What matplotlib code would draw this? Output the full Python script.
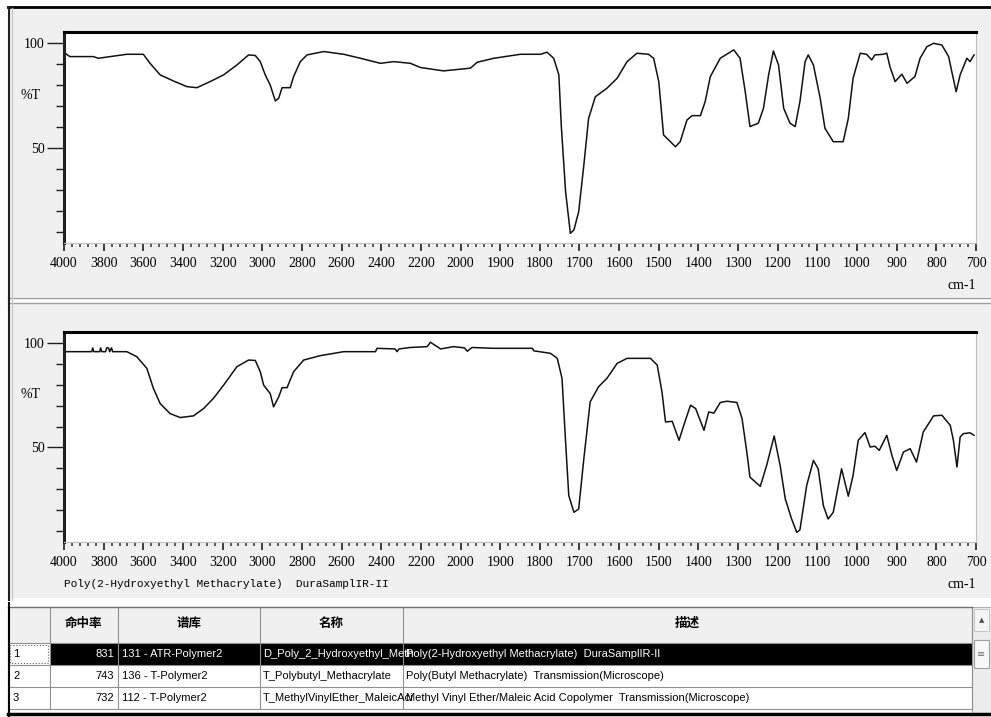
import numpy as np
import matplotlib
matplotlib.use("Agg")
import matplotlib.pyplot as plt
from matplotlib.patches import Rectangle
from matplotlib.ticker import FixedLocator, NullFormatter

# sample spectrum (top): wavenumber (cm-1) and %T
wn_top = [3995, 3970, 3852, 3827, 3683, 3600, 3566, 3515, 3448, 3380, 3330, 3263,
          3195, 3128, 3069, 3035, 3010, 2985, 2960, 2934, 2917, 2900, 2859, 2842,
          2808, 2774, 2690, 2589, 2505, 2404, 2337, 2253, 2202, 2085, 1975, 1958,
          1916, 1849, 1798, 1782, 1765, 1752, 1746, 1735, 1723, 1714, 1702, 1689,
          1677, 1660, 1631, 1605, 1580, 1555, 1526, 1513, 1500, 1488, 1475, 1458,
          1446, 1429, 1416, 1395, 1383, 1370, 1345, 1311, 1295, 1282, 1270, 1249,
          1236, 1223, 1211, 1198, 1185, 1169, 1156, 1144, 1131, 1123, 1110, 1093,
          1081, 1060, 1035, 1022, 1010, 992, 976, 963, 955, 934, 925, 917, 904,
          887, 874, 854, 841, 824, 807, 786, 769, 761, 750, 740, 723, 715, 705]
t_top = [95.1, 93.5, 93.5, 92.7, 94.6, 94.6, 90.3, 84.8, 81.9, 79.2, 78.7, 81.6,
         84.8, 89.5, 94.3, 94.0, 91.1, 84.8, 80.0, 72.4, 73.7, 78.7, 78.7, 84.0,
         91.1, 94.3, 95.9, 94.6, 92.7, 90.3, 91.1, 90.3, 88.3, 86.7, 88.0, 90.8,
         92.7, 94.6, 94.6, 95.6, 92.7, 84.8, 61.0, 29.2, 9.4, 11.0, 19.7, 41.9,
         64.1, 74.4, 78.4, 83.2, 91.1, 95.1, 94.6, 92.7, 81.6, 56.2, 53.8, 50.6,
         53.0, 63.3, 65.4, 65.4, 72.1, 84.0, 92.7, 96.7, 92.7, 76.8, 60.2, 61.8,
         68.9, 84.8, 96.2, 89.5, 68.9, 61.8, 60.2, 72.1, 91.1, 94.3, 89.5, 73.7,
         59.4, 53.0, 53.0, 64.1, 83.2, 95.1, 94.6, 91.9, 94.3, 94.6, 95.1, 88.7, 81.6,
         85.1, 80.8, 84.0, 92.7, 98.2, 99.8, 99.0, 93.5, 86.3, 76.8, 84.8, 92.7, 91.1, 94.3]

# library hit spectrum (middle)
wn_mid = [3995, 3860, 3855, 3850, 3820, 3815, 3810, 3790, 3785, 3775, 3770, 3760,
          3755, 3683, 3633, 3582, 3549, 3515, 3465, 3414, 3347, 3296, 3246, 3195,
          3128, 3069, 3035, 3010, 2993, 2960, 2943, 2917, 2900, 2875, 2842, 2791,
          2707, 2589, 2429, 2421, 2330, 2320, 2310, 2253, 2168, 2152, 2118, 2101,
          2034, 1990, 1983, 1971, 1916, 1849, 1819, 1815, 1773, 1756, 1744, 1735,
          1727, 1714, 1702, 1689, 1673, 1652, 1631, 1605, 1580, 1521, 1504, 1492,
          1483, 1466, 1449, 1437, 1420, 1407, 1386, 1374, 1361, 1345, 1328, 1303,
          1290, 1278, 1270, 1244, 1228, 1209, 1194, 1181, 1165, 1152, 1144, 1127,
          1110, 1098, 1085, 1073, 1060, 1039, 1022, 1010, 997, 980, 967, 955, 944,
          925, 912, 900, 883, 866, 850, 833, 807, 786, 765, 757, 748, 740, 732, 715, 705]
t_mid = [95.8, 95.8, 97.6, 95.8, 95.8, 97.6, 95.8, 95.8, 97.6, 97.6, 95.8, 97.6,
         95.8, 95.8, 93.4, 87.8, 78.2, 71.0, 66.2, 64.3, 65.1, 68.6, 73.5, 79.8,
         88.6, 91.8, 91.6, 86.2, 79.8, 75.8, 69.4, 74.2, 78.6, 78.6, 86.2, 91.8,
         93.9, 95.8, 95.8, 97.4, 97.1, 95.8, 97.1, 97.8, 98.2, 100.3, 98.2, 97.1,
         98.2, 97.6, 96.0, 97.8, 97.4, 97.4, 97.4, 96.2, 95.0, 92.6, 83.0, 52.6,
         27.0, 19.0, 20.6, 44.6, 71.8, 79.0, 83.0, 90.2, 92.6, 92.6, 89.4, 76.6,
         62.2, 62.5, 53.4, 60.6, 70.2, 68.6, 58.2, 67.0, 66.4, 71.5, 72.1, 71.5,
         63.8, 47.8, 35.8, 31.4, 41.4, 55.5, 41.4, 25.4, 15.8, 9.4, 10.6, 31.8,
         43.8, 39.8, 22.2, 15.8, 19.0, 39.8, 26.7, 36.6, 53.4, 57.1, 50.2, 50.6, 48.6,
         55.8, 46.2, 39.0, 47.8, 49.4, 43.0, 57.4, 65.1, 65.4, 60.6, 53.4, 40.6, 55.0, 56.6, 57.0, 55.8]

major_ticks = [4000, 3800, 3600, 3400, 3200, 3000, 2800, 2600, 2400, 2200, 2000,
               1900, 1800, 1700, 1600, 1500, 1400, 1300, 1200, 1100, 1000, 900, 800, 700]
y_major = [100, 50]
y_minor = [90, 80, 70, 60, 40, 30, 20, 10]

caption = "Poly(2-Hydroxyethyl Methacrylate)  DuraSamplIR-II"

# search result table
headers = ["命中率", "谱库", "名称", "描述"]
row_ids = ["1", "2", "3"]
scores = [831, 743, 732]
libraries = ["131 - ATR-Polymer2", "136 - T-Polymer2", "112 - T-Polymer2"]
names = ["D_Poly_2_Hydroxyethyl_Meth", "T_Polybutyl_Methacrylate", "T_MethylVinylEther_MaleicAci"]
descriptions = ["Poly(2-Hydroxyethyl Methacrylate)  DuraSamplIR-II",
                "Poly(Butyl Methacrylate)  Transmission(Microscope)",
                "Methyl Vinyl Ether/Maleic Acid Copolymer  Transmission(Microscope)"]

W, H = 991, 717
fig = plt.figure(figsize=(W / 100, H / 100), dpi=100, facecolor="white")

def box(l, t, r, b):
    return [l / W, 1 - b / H, (r - l) / W, (b - t) / H]

# background / window chrome, drawn in pixel coordinates
bg = fig.add_axes([0, 0, 1, 1], zorder=0)
bg.set_xlim(0, W)
bg.set_ylim(H, 0)
bg.axis("off")
bg.add_patch(Rectangle((8, 7), W - 8, 290, fc="#f0f0f0", ec="none"))
bg.add_patch(Rectangle((8, 303), W - 8, 295, fc="#f0f0f0", ec="none"))
bg.plot([8, W], [7, 7], color="black", lw=2)
bg.plot([8, W], [298, 298], color="#a0a0a0", lw=1)
bg.plot([8, W], [303, 303], color="#a0a0a0", lw=1)
bg.plot([9, 9], [7, 600], color="#202020", lw=1.5)
bg.plot([12, 12], [8, 600], color="#c8c8c8", lw=1)

font_num = "Liberation Serif"
font_tab = "Liberation Sans"

def fwd(x):
    x = np.asarray(x, dtype=float)
    return np.where(x > 2000, 2000 + (x - 2000) / 2, x)

def inv(u):
    u = np.asarray(u, dtype=float)
    return np.where(u > 2000, 2000 + (u - 2000) * 2, u)

def spectrum(rect, wn, t):
    ax = fig.add_axes(rect, zorder=2)
    ax.set_facecolor("white")
    ax.set_xscale("function", functions=(fwd, inv))
    ax.plot(wn, t, color="#111111", lw=1.1)
    ax.set_xlim(4000, 700)
    ax.set_ylim(4.8, 105.2)
    ax.xaxis.set_major_locator(FixedLocator(major_ticks))
    ax.set_xticklabels([str(v) for v in major_ticks], fontfamily=font_num, fontsize=10)
    minor = list(np.arange(2000, 4001, 40)) + list(np.arange(700, 2001, 20))
    ax.xaxis.set_minor_locator(FixedLocator(minor))
    ax.yaxis.set_major_locator(FixedLocator(y_major))
    ax.yaxis.set_minor_locator(FixedLocator(y_minor))
    ax.yaxis.set_minor_formatter(NullFormatter())
    ax.set_yticklabels([str(v) for v in y_major], fontfamily=font_num, fontsize=10)
    ax.tick_params(axis="x", which="major", direction="out", length=6, width=1.2, pad=4, color="#202020")
    ax.tick_params(axis="x", which="minor", direction="out", length=3, width=1.2, color="#404040")
    ax.tick_params(axis="y", which="major", direction="out", length=12, width=1, pad=2, color="#202020")
    ax.tick_params(axis="y", which="minor", direction="out", length=6, width=1, color="#202020")
    ax.spines["top"].set_linewidth(2.2)
    ax.spines["top"].set_color("black")
    ax.spines["left"].set_linewidth(2.2)
    ax.spines["left"].set_color("#202020")
    ax.spines["right"].set_color("#c0c0c0")
    ax.spines["bottom"].set_color("#c0c0c0")
    ax.text(-0.037, 0.7, "%T", transform=ax.transAxes, ha="center", va="center",
            fontfamily=font_num, fontsize=10)
    ax.text(1.0, -0.2, "cm-1", transform=ax.transAxes, ha="right", va="center",
            fontfamily=font_num, fontsize=10)
    return ax

ax1 = spectrum(box(64, 32, 976, 243), wn_top, t_top)
ax2 = spectrum(box(64, 332, 976, 542), wn_mid, t_mid)
ax2.text(0.0, -0.2, caption, transform=ax2.transAxes, ha="left", va="center",
         fontfamily="Liberation Mono", fontsize=8)

# result table
tab = fig.add_axes([0, 0, 1, 1], zorder=3)
tab.set_xlim(0, W)
tab.set_ylim(H, 0)
tab.axis("off")
col_x = [8, 50, 118, 260, 403, 972]
head_top, head_bot = 607, 643
row_h = 22
tab.add_patch(Rectangle((8, head_top), W - 8, H - head_top, fc="white", ec="none"))
tab.add_patch(Rectangle((8, head_top), 964, head_bot - head_top, fc="#f0f0f0", ec="none"))
tab.add_patch(Rectangle((50, head_bot), 922, row_h, fc="black", ec="none"))
tab.add_patch(Rectangle((10, head_bot + 2), 38, row_h - 4, fc="none", ec="#606060", lw=0.8, ls=":"))
for x in col_x:
    tab.plot([x, x], [head_top, head_bot + 3 * row_h], color="#909090", lw=0.8)
tab.plot([8, 972], [head_top, head_top], color="#707070", lw=1)
for i in range(4):
    tab.plot([8, 972], [head_bot + i * row_h] * 2, color="#909090", lw=0.8)
tab.plot([8, W], [714, 714], color="black", lw=2.5)
tab.plot([9, 9], [603, 716], color="black", lw=1.5)

centers = [(col_x[i] + col_x[i + 1]) / 2 for i in range(1, 5)]
for c, h in zip(centers, headers):
    tab.text(c, (head_top + head_bot) / 2 - 2, h, ha="center", va="center",
             fontfamily="Noto Sans CJK SC", fontweight="bold", fontsize=9)

def cell_text(x, y, s, col, **kw):
    t = tab.text(x, y, s, va="center", fontfamily=font_tab, fontsize=8, **kw)
    clip = Rectangle((col_x[col] + 1, y - row_h / 2), col_x[col + 1] - col_x[col] - 2, row_h,
                     transform=tab.transData, fc="none", ec="none")
    t.set_clip_path(clip)
    return t

for i in range(3):
    y = head_bot + (i + 0.5) * row_h
    fg = "white" if i == 0 else "black"
    cell_text(13, y, row_ids[i], 0, ha="left")
    cell_text(114, y, str(scores[i]), 1, ha="right", color=fg)
    cell_text(122, y, libraries[i], 2, ha="left", color=fg)
    cell_text(263, y, names[i], 3, ha="left", color=fg)
    cell_text(406, y, descriptions[i], 4, ha="left", color=fg)

# scroll bar
tab.add_patch(Rectangle((972, head_top), 19, 714 - head_top, fc="#ececec", ec="#b0b0b0", lw=0.8))
tab.add_patch(Rectangle((974, head_top + 2), 15, 22, fc="#f4f4f4", ec="#c0c0c0", lw=0.6))
tab.text(981.5, head_top + 13, "▲", ha="center", va="center", fontsize=5, color="#505050")
tab.add_patch(Rectangle((974, 640), 15, 28, fc="#f8f8f8", ec="#a0a0a0", lw=0.8))
tab.text(981.5, 654, "≡", ha="center", va="center", fontsize=7, color="#707070")

fig.savefig("out.png", dpi=100, facecolor="white")
